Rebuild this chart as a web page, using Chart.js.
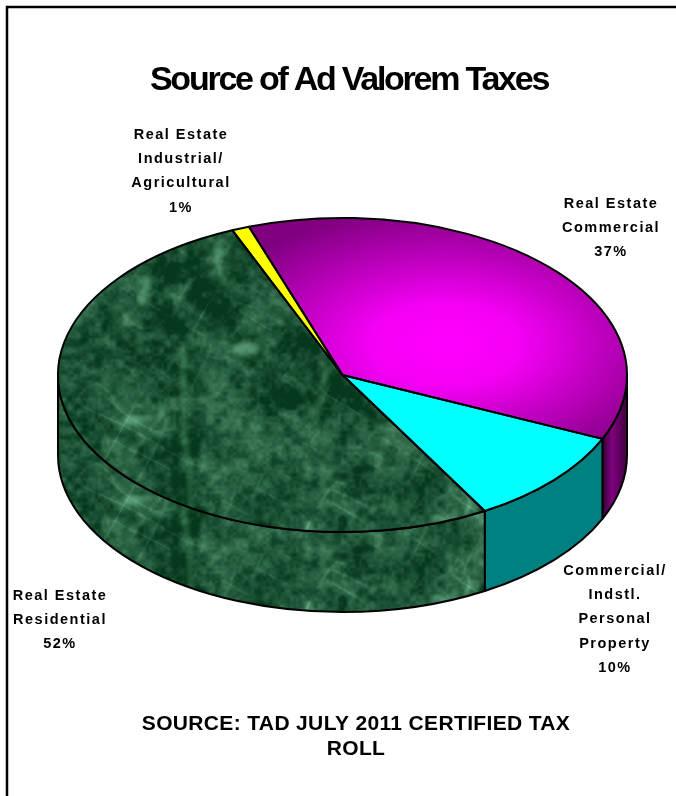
<!DOCTYPE html>
<html lang="en">
<head>
  <meta charset="UTF-8">
  <title>Source of Ad Valorem Taxes</title>
  <script src="https://cdn.jsdelivr.net/npm/chart.js"></script>
  <style>
    html, body {
      margin: 0;
      padding: 0;
      background: #fff;
      overflow: hidden;
    }

    canvas {
      display: block;
    }
  </style>
</head>
<body>

  <canvas id="taxChart" width="676" height="796"></canvas>

  <script>
    const sliceNames = ['Commercial', 'Personal Property', 'Residential', 'Industrial'];
    const sliceValues = [37, 10, 52, 1];
    const sliceLabels = [
      ['Real Estate', 'Commercial'],
      ['Commercial/', 'Indstl.', 'Personal', 'Property'],
      ['Real Estate', 'Residential'],
      ['Real Estate', 'Industrial/', 'Agricultural']
    ];
    const titleText = 'Source of Ad Valorem Taxes';
    const sourceLines = ['SOURCE: TAD JULY 2011 CERTIFIED TAX', 'ROLL'];

    const FONT = '"Liberation Sans", Arial, sans-serif';
    const PIE_X = 342.5;
    const PIE_Y = 375;
    const PIE_R = 284.5;
    const SQUASH = 0.552;
    const DEPTH = 80;

    const canvas = document.getElementById('taxChart');
    const ctx = canvas.getContext('2d');

    // small seeded generator so the marble comes out the same on every load
    let seed = 20110;
    function rnd() {
      seed = (seed * 16807) % 2147483647;
      return seed / 2147483647;
    }

    // wrapping value noise; sx and sy are the cell size along each axis
    function noiseField(sx, sy) {
      const size = 256;
      const grid = new Float32Array(size * size).map(() => rnd());
      return (x, y) => {
        const fx = x / sx + 512, fy = y / sy + 512;
        const ix = Math.floor(fx), iy = Math.floor(fy);
        let tx = fx - ix, ty = fy - iy;
        tx = tx * tx * (3 - 2 * tx);
        ty = ty * ty * (3 - 2 * ty);
        const x0 = ix & 255, x1 = (ix + 1) & 255, y0 = iy & 255, y1 = (iy + 1) & 255;
        const a = grid[y0 * size + x0], b = grid[y0 * size + x1];
        const c = grid[y1 * size + x0], d = grid[y1 * size + x1];
        return (a + (b - a) * tx) * (1 - ty) + (c + (d - c) * tx) * ty;
      };
    }

    function makeMarble() {
      const raw = document.createElement('canvas');
      raw.width = 676;
      raw.height = 796;
      const g = raw.getContext('2d');
      const img = g.createImageData(676, 796);

      const big = noiseField(44, 44), mid = noiseField(18, 18);
      const mottle = noiseField(7, 7), grain = noiseField(3, 3);
      const streakA = noiseField(55, 13), streakB = noiseField(13, 55), breakup = noiseField(22, 22);
      const dark = [6, 56, 27], light = [122, 194, 156];

      for (let y = 0; y < 796; y++) {
        for (let x = 0; x < 676; x++) {
          const cloud = big(x, y) * 0.6 + mid(x, y) * 0.4;
          // long streaks along two slanted directions, broken up by a mask
          const u = x * 0.86 + y * 0.5, v = -x * 0.5 + y * 0.86;
          const sA = Math.pow(1 - Math.abs(2 * streakA(u, v) - 1), 6);
          const sB = Math.pow(1 - Math.abs(2 * streakB(u, v) - 1), 6);
          const mask = Math.max(0, breakup(x, y) * 1.6 - 0.35);
          let t = 0.19 + (cloud - 0.5) * 0.55 + (mottle(x, y) - 0.5) * 0.3 + (grain(x, y) - 0.5) * 0.16
            + (sA + sB) * mask * 0.2;
          t = Math.max(0, Math.min(1, t));
          const p = (y * 676 + x) * 4;
          img.data[p] = dark[0] + (light[0] - dark[0]) * t;
          img.data[p + 1] = dark[1] + (light[1] - dark[1]) * t;
          img.data[p + 2] = dark[2] + (light[2] - dark[2]) * t;
          img.data[p + 3] = 255;
        }
      }
      g.putImageData(img, 0, 0);

      // the few long veins and bright patches that stand out on the top face
      const veins = [
        [[183, 350], [184, 430], [190, 480], [192, 560]],
        [[147, 275], [142, 305]],
        [[222, 238], [218, 262], [225, 285]],
        [[125, 420], [158, 416], [176, 400]],
        [[232, 350], [262, 342]],
        [[327, 370], [322, 395], [312, 415]]
      ];
      g.filter = 'blur(2.5px)';
      g.lineCap = 'round';
      g.strokeStyle = 'rgba(125,195,155,0.42)';
      g.lineWidth = 3.5;
      veins.forEach(v => {
        g.beginPath();
        v.forEach((p, i) => i ? g.lineTo(p[0], p[1]) : g.moveTo(p[0], p[1]));
        g.stroke();
      });
      g.fillStyle = 'rgba(125,195,155,0.5)';
      [[135, 421, 10, 6], [246, 349, 13, 7], [320, 595, 11, 7], [470, 575, 10, 7]].forEach(b => {
        g.beginPath();
        g.ellipse(b[0], b[1], b[2], b[3], 0, 0, Math.PI * 2);
        g.fill();
      });

      // slight softening over the whole stone
      const out = document.createElement('canvas');
      out.width = 676;
      out.height = 796;
      const og = out.getContext('2d');
      og.filter = 'blur(0.7px)';
      og.drawImage(raw, 0, 0);
      return out;
    }

    const marble = makeMarble();

    // top face is drawn under the squash transform, so undo it for the pattern
    const marbleTop = ctx.createPattern(marble, 'repeat');
    marbleTop.setTransform(new DOMMatrix().translate(0, PIE_Y).scale(1, 1 / SQUASH).translate(0, -PIE_Y));
    const marbleSide = ctx.createPattern(marble, 'repeat');
    marbleSide.setTransform(new DOMMatrix().translate(0, DEPTH));

    const magentaTop = ctx.createRadialGradient(445, 320, 0, 445, 320, 250);
    magentaTop.addColorStop(0, '#ff00ff');
    magentaTop.addColorStop(0.3, '#f400f4');
    magentaTop.addColorStop(1, '#800080');

    const magentaSide = ctx.createLinearGradient(600, 0, 627, 0);
    magentaSide.addColorStop(0, '#200020');
    magentaSide.addColorStop(0.45, '#800080');
    magentaSide.addColorStop(1, '#3c003c');

    const topColors = [magentaTop, '#00ffff', marbleTop, '#ffff00'];
    const sideColors = [magentaSide, '#008080', marbleSide, '#808000'];

    // Walls below the rim, then squash the pie into an ellipse
    const tiltPlugin = {
      id: 'tilt',
      beforeDatasetsDraw(chart) {
        const c = chart.ctx;
        chart.getDatasetMeta(0).data.forEach((arc, i) => {
          const from = Math.max(arc.startAngle, 0);
          const to = Math.min(arc.endAngle, Math.PI);
          if (to <= from) return;
          c.beginPath();
          c.ellipse(arc.x, arc.y, arc.outerRadius, arc.outerRadius * SQUASH, 0, from, to);
          c.ellipse(arc.x, arc.y + DEPTH, arc.outerRadius, arc.outerRadius * SQUASH, 0, to, from, true);
          c.closePath();
          c.fillStyle = sideColors[i];
          c.fill();
          c.strokeStyle = '#000';
          c.lineWidth = 2;
          c.lineJoin = 'round';
          c.stroke();
        });
        c.save();
        c.translate(PIE_X, PIE_Y);
        c.scale(1, SQUASH);
        c.translate(-PIE_X, -PIE_Y);
      },
      afterDatasetsDraw(chart) {
        const c = chart.ctx;
        c.restore();
        // outlines go on after the transform so the pen stays even
        chart.getDatasetMeta(0).data.forEach(arc => {
          c.beginPath();
          c.moveTo(arc.x, arc.y);
          c.ellipse(arc.x, arc.y, arc.outerRadius, arc.outerRadius * SQUASH, 0, arc.startAngle, arc.endAngle);
          c.closePath();
          c.strokeStyle = '#000';
          c.lineWidth = 2;
          c.lineJoin = 'round';
          c.stroke();
        });
      }
    };

    // Title, slice captions and source note
    const textPlugin = {
      id: 'pageText',
      afterDraw(chart, args, opts) {
        const c = chart.ctx;
        c.save();
        c.fillStyle = '#000';
        c.textAlign = 'center';
        c.textBaseline = 'alphabetic';

        c.font = 'bold 34px ' + FONT;
        c.letterSpacing = '-2.25px';
        c.fillText(titleText, 349, 90);

        c.font = 'bold 14.5px ' + FONT;
        c.letterSpacing = '1.5px';
        sliceLabels.forEach((lines, i) => {
          const spot = opts.labelSpots[i];
          lines.concat(sliceValues[i] + '%').forEach((line, n) => {
            c.fillText(line, spot.x, spot.y + n * 24.2);
          });
        });

        c.font = 'bold 21px ' + FONT;
        c.letterSpacing = '0.35px';
        sourceLines.forEach((line, n) => c.fillText(line, 356, 730 + n * 25));
        c.restore();
      }
    };

    new Chart(ctx, {
      type: 'pie',
      data: {
        labels: sliceNames,
        datasets: [{
          data: sliceValues,
          backgroundColor: topColors,
          borderWidth: 0,
          radius: PIE_R,
          clip: false
        }]
      },
      options: {
        responsive: false,
        animation: false,
        rotation: -19.2,
        layout: { padding: { left: 9, right: 0, top: 0, bottom: 46 } },
        plugins: {
          legend: { display: false },
          tooltip: { enabled: false },
          pageText: {
            labelSpots: [
              { x: 611, y: 208 },
              { x: 615, y: 575 },
              { x: 60, y: 600 },
              { x: 181, y: 139 }
            ]
          }
        }
      },
      plugins: [
        tiltPlugin,
        textPlugin,
        {
          // page frame, open on the right and at the bottom
          id: 'frame',
          beforeDraw(chart) {
            const c = chart.ctx;
            c.strokeStyle = '#000';
            c.lineWidth = 2.5;
            c.beginPath();
            c.moveTo(7, 796);
            c.lineTo(7, 7);
            c.lineTo(676, 7);
            c.stroke();
          }
        }
      ]
    });
  </script>

</body>
</html>
